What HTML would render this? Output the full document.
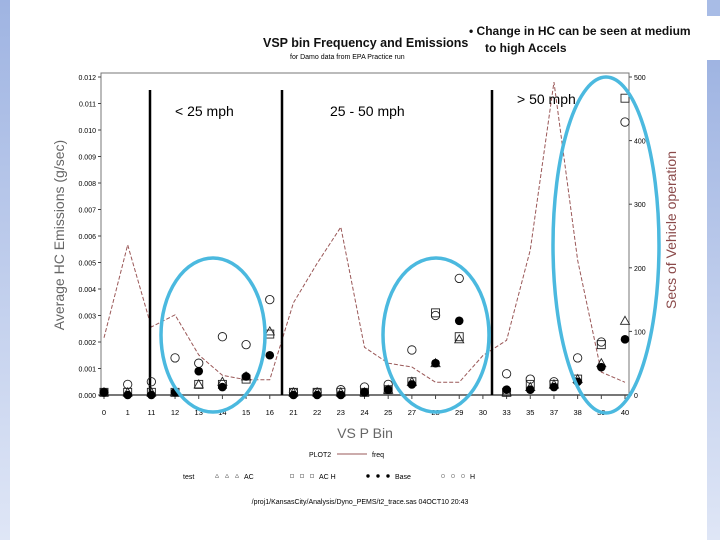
<!DOCTYPE html>
<html><head><meta charset="utf-8"><style>
body{margin:0;width:720px;height:540px;overflow:hidden;background:#fff;font-family:"Liberation Sans",sans-serif}
svg{display:block}
</style></head><body>
<svg id="chart" width="720" height="540">
<defs>
<linearGradient id="lg" x1="0" y1="0" x2="0" y2="1"><stop offset="0" stop-color="#9fb4e2"/><stop offset="1" stop-color="#dfe6f6"/></linearGradient>
</defs>
<rect x="0" y="0" width="10" height="540" fill="url(#lg)"/>
<rect x="707" y="0" width="13" height="16" fill="#a8bce6"/>
<rect x="707" y="60" width="13" height="480" fill="url(#lg)"/>
<text x="263" y="47" font-size="12.5" font-weight="bold" fill="#111">VSP bin Frequency and Emissions</text>
<text x="290" y="59" font-size="7" fill="#000">for Damo data from EPA Practice run</text>
<text x="469" y="35" font-size="12" font-weight="bold" fill="#111">• Change in HC can be seen at medium</text>
<text x="485" y="52" font-size="12" font-weight="bold" fill="#111">to high Accels</text>
<g id="plot"></g>
</svg>
<script>
const categories=['0','1','11','12','13','14','15','16','21','22','23','24','25','27','28','29','30','33','35','37','38','39','40'];
const freq=[90,236,107,126,63,31,24,24,145,207,264,75,50,44,20,20,62,86,228,492,212,36,20];
const hcH=[0.0001,0.0004,0.0005,0.0014,0.0012,0.0022,0.0019,0.0036,0.0001,0.0001,0.0002,0.0003,0.0004,0.0017,0.0030,0.0044,null,0.0008,0.0006,0.0005,0.0014,0.0020,0.0103];
const hcBase=[0.0001,0.0000,0.0000,0.0001,0.0009,0.0003,0.0007,0.0015,0.0000,0.0000,0.0000,0.0001,0.0002,0.0004,0.0012,0.0028,null,0.0002,0.0002,0.0003,0.0005,0.00105,0.0021];
const hcAC=[0.0001,0.0001,0.0001,0.0001,0.0004,0.0005,0.0007,0.0024,0.0001,0.0001,0.0001,0.0001,0.0002,0.0005,0.0012,0.0021,null,0.0001,0.0003,0.0004,0.0006,0.0012,0.0028];
const hcACH=[0.0001,0.0001,0.0001,0.0001,0.0004,0.0004,0.0006,0.0023,0.0001,0.0001,0.0001,0.0001,0.0002,0.0005,0.0031,0.0022,null,0.0001,0.0004,0.0004,0.0006,0.0019,0.0112];
const leftTicks=['0.000','0.001','0.002','0.003','0.004','0.005','0.006','0.007','0.008','0.009','0.010','0.011','0.012'];
const rightTicks=[0,100,200,300,400,500];

const NS='http://www.w3.org/2000/svg';
const g=document.getElementById('plot');
const X0=101,X1=629,Y0=395,Y1=77;
const xs=i=>104+i*(625-104)/(categories.length-1);
const yl=v=>Y0-(v/0.012)*(Y0-Y1);
const yr=v=>Y0-(v/500)*(Y0-Y1);
function el(t,a,parent){const e=document.createElementNS(NS,t);for(const k in a)e.setAttribute(k,a[k]);(parent||g).appendChild(e);return e;}

let e=el('rect',{x:X0,y:73,width:X1-X0,height:Y0-73,fill:'none',stroke:'#777','stroke-width':1});


e=el('line',{x1:X0,y1:Y0,x2:X1,y2:Y0,stroke:'#777','stroke-width':2});



leftTicks.forEach((t,i)=>{const y=yl(i*0.001);
 let l=el('line',{x1:X0-3,y1:y,x2:X0,y2:y,stroke:'#444'});
 
 
 let tx=el('text',{x:X0-5,y:y+3,'font-size':7,'text-anchor':'end'});tx.textContent=t;
 
 
});
rightTicks.forEach(t=>{const y=yr(t);
 let l=el('line',{x1:X1,y1:y,x2:X1+3,y2:y,stroke:'#444'});
 
 
 let tx=el('text',{x:X1+5,y:y+3,'font-size':7});tx.textContent=t;
 
 
});
categories.forEach((c,i)=>{const x=xs(i);
 let l=el('line',{x1:x,y1:Y0,x2:x,y2:Y0+4,stroke:'#444'});
 
 
 let tx=el('text',{x:x,y:Y0+20,'font-size':7.5,'text-anchor':'middle'});tx.textContent=c;
 
 
});
let t=el('text',{x:365,y:438,'font-size':14,'text-anchor':'middle',fill:'#666'});t.textContent='VS P Bin';


t=el('text',{x:0,y:0,'font-size':14,'text-anchor':'middle',fill:'#666',transform:'translate(64,235) rotate(-90)'});t.textContent='Average HC Emissions (g/sec)';


t=el('text',{x:0,y:0,'font-size':14,'text-anchor':'middle',fill:'#8b4a4a',transform:'translate(676,230) rotate(-90)'});t.textContent='Secs of Vehicle operation';



let p=el('polyline',{points:freq.map((v,i)=>xs(i)+','+yr(v)).join(' '),fill:'none',stroke:'#9a5858','stroke-width':1,'stroke-dasharray':'4,2'});



[[150,'less-25-divider'],[282,'25-50-divider'],[492,'over-50-divider']].forEach(d=>{
 let l=el('line',{x1:d[0],y1:90,x2:d[0],y2:Y0,stroke:'#000','stroke-width':2.5});
 
 
});
[['< 25 mph',175,116,'label-under-25'],['25  - 50 mph',330,116,'label-25-50'],['> 50 mph',517,104,'label-over-50']].forEach(d=>{
 let tx=el('text',{x:d[1],y:d[2],'font-size':14});tx.textContent=d[0];
 
 
});

function marker(kind,x,y,par){
 if(kind==='circ') return el('circle',{cx:x,cy:y,r:4.2,fill:'none',stroke:'#222','stroke-width':0.9},par);
 if(kind==='dot') return el('circle',{cx:x,cy:y,r:4.3,fill:'#000'},par);
 if(kind==='sq') return el('rect',{x:x-4,y:y-4,width:8,height:8,fill:'none',stroke:'#222','stroke-width':0.9},par);
 return el('polygon',{points:`${x},${y-4.5} ${x+4.5},${y+3.5} ${x-4.5},${y+3.5}`,fill:'none',stroke:'#222','stroke-width':0.9},par);
}
[[hcAC,'tri','series-ac'],[hcACH,'sq','series-ac-h'],[hcH,'circ','series-h'],[hcBase,'dot','series-base']].forEach(s=>{
 const grp=el('g',{});
 
 
 s[0].forEach((v,i)=>{if(v===null)return;
  const m=marker(s[1],xs(i),yl(v),grp);
  
  
 });
});

[[213,335,52,77,'highlight-low-speed'],[436,335,53,77,'highlight-mid-speed'],[606,245,53,168,'highlight-high-speed']].forEach(d=>{
 let c=el('ellipse',{cx:d[0],cy:d[1],rx:d[2],ry:d[3],fill:'none',stroke:'#4bb9df','stroke-width':3.5});
 
 
});

const lg=el('g',{});


t=el('text',{x:309,y:457,'font-size':7},lg);t.textContent='PLOT2';


let ll=el('line',{x1:337,y1:454,x2:367,y2:454,stroke:'#9a5858'},lg);


t=el('text',{x:372,y:457,'font-size':7},lg);t.textContent='freq';


t=el('text',{x:183,y:479,'font-size':7},lg);t.textContent='test';


[['tri',217,'AC'],['sq',292,'AC H'],['dot',368,'Base'],['circ',443,'H']].forEach(d=>{
 for(let k=0;k<3;k++){const m=marker(d[0],d[1]+k*10,476,lg);m.setAttribute('transform',`translate(${(d[1]+k*10)*0.6},${476*0.6}) scale(0.4)`);
  
  }
 let tx=el('text',{x:d[1]+27,y:479,'font-size':7},lg);tx.textContent=d[2];
 
 
});
t=el('text',{x:360,y:504,'font-size':7,'text-anchor':'middle'});t.textContent='/proj1/KansasCity/Analysis/Dyno_PEMS/t2_trace.sas  04OCT10  20:43';


</script>
</body></html>
